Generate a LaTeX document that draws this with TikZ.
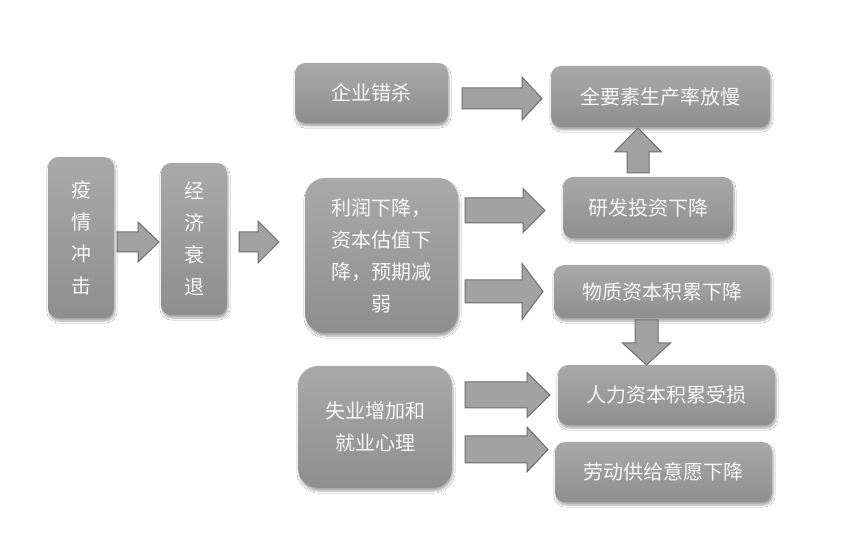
\documentclass[tikz,border=0pt]{standalone}
\usepackage{fontspec}
\setmainfont{Noto Sans CJK SC}
\usetikzlibrary{shadows,shadows.blur}
\definecolor{boxtop}{HTML}{A9A9A9}
\definecolor{boxbot}{HTML}{8E8E8E}
\definecolor{arrfill}{HTML}{A2A2A2}
\definecolor{arrline}{HTML}{6E6E6E}
\definecolor{txt}{HTML}{F7F7F7}
\tikzset{
  box/.style={rectangle, rounded corners=10pt, top color=boxtop, bottom color=boxbot,
    draw=none, text=txt, align=center, inner sep=0pt,
    font=\fontsize{20}{32}\selectfont,
    blur shadow={shadow xshift=1pt, shadow yshift=-3pt, shadow blur steps=6, shadow opacity=35}},
  bigbox/.style={box, rounded corners=20pt},
  blockarr/.style={fill=arrfill, draw=arrline, line width=1pt, line join=miter}
}
% right-pointing block arrow: x1, x2, ymid, shaft half, head half, head start
\newcommand{\rarr}[6]{%
  \draw[blockarr] (#1,#3-#4) -- (#6,#3-#4) -- (#6,#3-#5) -- (#2,#3) -- (#6,#3+#5) -- (#6,#3+#4) -- (#1,#3+#4) -- cycle;}
% vertical block arrow: xmid, ybase, ytip, shaft half, head half, head start
\newcommand{\varr}[6]{%
  \draw[blockarr] (#1-#4,#2) -- (#1-#4,#6) -- (#1-#5,#6) -- (#1,#3) -- (#1+#5,#6) -- (#1+#4,#6) -- (#1+#4,#2) -- cycle;}
\begin{document}
\begin{tikzpicture}[x=1pt,y=-1pt]
\useasboundingbox (0,0) rectangle (855,553);
\fill[white] (0,0) rectangle (855,553);

\node[box, minimum width=66pt, minimum height=161pt] (A) at (81,237.5) {疫\\情\\冲\\击};
\node[box, minimum width=66pt, minimum height=152pt] (B) at (194,239) {经\\济\\衰\\退};
\node[box, minimum width=153pt, minimum height=60pt] (C) at (371.5,93) {企业错杀};
\node[bigbox, minimum width=153pt, minimum height=155pt] (D) at (381.5,255.5) {利润下降，\\资本估值下\\降，预期减\\弱};
\node[bigbox, minimum width=154pt, minimum height=122pt] (E) at (375,427) {失业增加和\\就业心理};
\node[box, minimum width=219pt, minimum height=61pt] (F) at (660.5,96.5) {全要素生产率放慢};
\node[box, minimum width=170pt, minimum height=61pt] (G) at (648,207.5) {研发投资下降};
\node[box, minimum width=216pt, minimum height=53pt] (H) at (662,291.5) {物质资本积累下降};
\node[box, minimum width=217pt, minimum height=60pt] (I) at (666.5,395) {人力资本积累受损};
\node[box, minimum width=217pt, minimum height=60pt] (J) at (663.5,472) {劳动供给意愿下降};

\rarr{117}{159}{242}{10}{20}{138}
\rarr{239}{279}{242}{10}{21}{258}
\rarr{462}{542}{98.5}{10.5}{21.5}{522}
\rarr{465}{545}{210.5}{12.5}{22}{523}
\rarr{465}{543}{291.5}{11.5}{28}{522}
\rarr{465}{550}{395}{13}{22.5}{527}
\rarr{465}{548}{449.5}{13.5}{22.5}{527}
\varr{638}{173}{128}{11}{23.5}{152}
\varr{646.5}{320}{365}{11.5}{24}{343}
\end{tikzpicture}
\end{document}
